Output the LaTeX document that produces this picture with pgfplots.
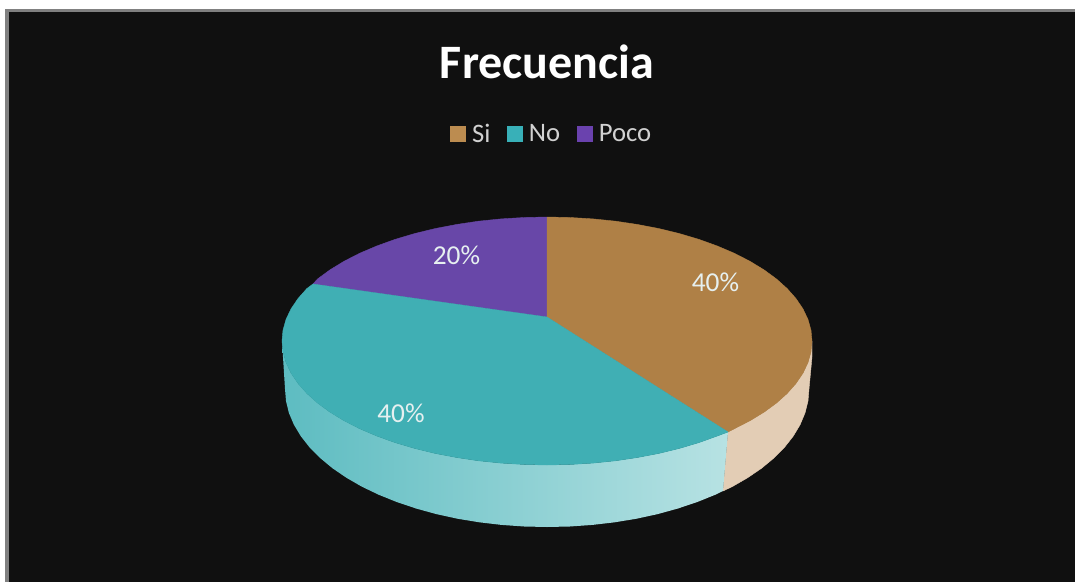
\documentclass[border=0pt]{standalone}
\usepackage{fontspec}
\setmainfont{Carlito}
\usepackage{pgfplots}
\pgfplotsset{compat=1.18}
\definecolor{fondo}{HTML}{101010}
\definecolor{marco}{HTML}{808080}
\definecolor{si}{HTML}{AF8046}
\definecolor{no}{HTML}{40AFB4}
\definecolor{poco}{HTML}{6847A8}
\definecolor{siLeg}{HTML}{BC8C50}
\definecolor{noLeg}{HTML}{38B0B8}
\definecolor{pocoLeg}{HTML}{6A42AE}
\definecolor{siPared}{HTML}{E3CDB5}
\definecolor{noA}{HTML}{5DBCC1}
\definecolor{noB}{HTML}{98D5D7}
\definecolor{noC}{HTML}{B7E2E3}
\definecolor{etiqueta}{HTML}{E6F0F0}
\begin{document}
\begin{tikzpicture}
\begin{axis}[
  scale only axis,
  width=806.25pt,
  height=436.5pt,
  xmin=0, xmax=1075,
  ymin=0, ymax=582,
  y dir=reverse,
  axis lines=none,
  legend columns=3,
  legend cell align=left,
  legend style={
    at={(axis cs:552,134)}, anchor=center,
    draw=none, fill=none, text=white!82!black,
    font=\fontsize{20}{23}\selectfont,
    /tikz/every even column/.append style={column sep=10.5pt},
  },
  legend image code/.code={
    \path[draw=none, fill=none] (0pt,0pt) -- (14.2pt,0pt);
    \fill[#1] (0pt,-5.6pt) rectangle (11.2pt,5.6pt);
  },
]
% fondo y marco
\addplot[fill=white, draw=none, forget plot] coordinates {(0,0) (1075,0) (1075,582) (0,582)} -- cycle;
\addplot[fill=marco, draw=none, forget plot] coordinates {(5,9) (1075,9) (1075,582) (5,582)} -- cycle;
\addplot[fill=fondo, draw=none, forget plot] coordinates {(9,12) (1075,12) (1075,582) (9,582)} -- cycle;

% pared Si
\addplot[fill=siPared, draw=siPared, line width=0.3pt, forget plot] coordinates {
  (728,432) (734.4,428.7) (750,420.7) (764.1,412.1) (776.5,403) (787.2,393.4)
  (796,383.4) (803,373.1) (808,362.5) (811,351.8) (812,341) (812,357) (809,389)
  (808,401) (805,413) (800.1,424.7) (793.2,436.2) (784.5,447.3) (773.9,458)
  (761.6,468.2) (747.7,477.7) (732.3,486.6) (723,491)
} -- cycle;

% pared No
\addplot[shade, left color=noA, middle color=noB, right color=noC, draw=none, forget plot] coordinates {
  (282,341) (283,351.8) (286,362.5) (291,373.1) (298,383.4) (306.8,393.4)
  (317.5,403) (329.9,412.1) (344,420.7) (359.6,428.7) (376.7,436) (395,442.6)
  (414.5,448.4) (435,453.4) (456.4,457.5) (478.4,460.8) (501,463.1) (524,464.5)
  (547,465) (570.1,464.5) (593,463.1) (615.6,460.8) (637.6,457.5) (659,453.4)
  (679.5,448.4) (699,442.6) (717.3,436) (728,432)
  (723,491) (715.4,494.7) (697.3,502) (678,508.5) (657.7,514.1) (636.6,518.7)
  (614.8,522.3) (592.5,524.9) (569.8,526.5) (547,527) (524.2,526.5) (501.5,524.9)
  (479.2,522.3) (457.4,518.7) (436.3,514.1) (416,508.5) (396.7,502) (378.6,494.7)
  (361.7,486.6) (346.3,477.7) (332.4,468.2) (320.1,458) (309.5,447.3) (300.8,436.2)
  (293.9,424.7) (288.9,413) (286,401) (285,389)
} -- cycle;

% cara superior
\addplot[fill=poco, draw=poco, line width=0.3pt, forget plot] coordinates {
  (547,317) (313,284) (317.5,279) (329.9,269.9) (344,261.3) (359.6,253.3)
  (376.7,246) (395,239.4) (414.5,233.6) (435,228.6) (456.4,224.5) (478.4,221.2)
  (501,218.9) (524,217.5) (547,217)
} -- cycle;
\addplot[fill=si, draw=si, line width=0.3pt, forget plot] coordinates {
  (547,317) (547,217) (570.1,217.5) (593,218.9) (615.6,221.2) (637.6,224.5)
  (659,228.6) (679.5,233.6) (699,239.4) (717.3,246) (734.4,253.3) (750,261.3)
  (764.1,269.9) (776.5,279) (787.2,288.6) (796,298.6) (803,308.9) (808,319.5)
  (811,330.2) (812,341) (811,351.8) (808,362.5) (803,373.1) (796,383.4)
  (787.2,393.4) (776.5,403) (764.1,412.1) (750,420.7) (734.4,428.7) (728,432)
} -- cycle;
\addplot[fill=no, draw=no, line width=0.3pt, forget plot] coordinates {
  (547,317) (728,432) (717.3,436) (699,442.6) (679.5,448.4) (659,453.4)
  (637.6,457.5) (615.6,460.8) (593,463.1) (570.1,464.5) (547,465) (524,464.5)
  (501,463.1) (478.4,460.8) (456.4,457.5) (435,453.4) (414.5,448.4) (395,442.6)
  (376.7,436) (359.6,428.7) (344,420.7) (329.9,412.1) (317.5,403) (306.8,393.4)
  (298,383.4) (291,373.1) (286,362.5) (283,351.8) (282,341) (283,330.2)
  (286,319.5) (291,308.9) (298,298.6) (306.8,288.6) (313,284)
} -- cycle;

\addlegendimage{siLeg}
\addlegendentry{Si}
\addlegendimage{noLeg}
\addlegendentry{No}
\addlegendimage{pocoLeg}
\addlegendentry{Poco}

\node[text=white, font=\fontsize{36}{40}\selectfont\bfseries] at (axis cs:547,62) {Frecuencia};
\node[text=etiqueta, font=\fontsize{20.5}{24}\selectfont] at (axis cs:715.5,282) {40\%};
\node[text=etiqueta, font=\fontsize{20.5}{24}\selectfont] at (axis cs:401,413) {40\%};
\node[text=etiqueta, font=\fontsize{20.5}{24}\selectfont] at (axis cs:456.5,255) {20\%};
\end{axis}
\end{tikzpicture}
\end{document}
